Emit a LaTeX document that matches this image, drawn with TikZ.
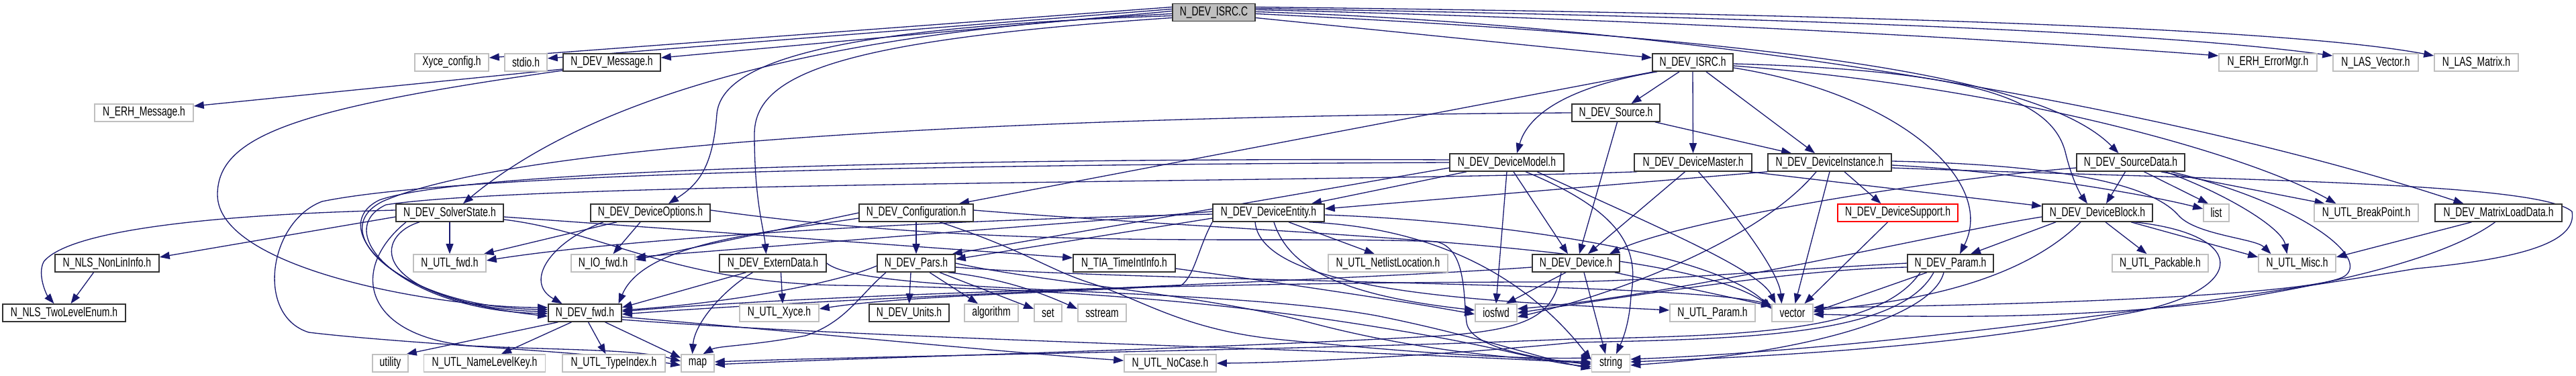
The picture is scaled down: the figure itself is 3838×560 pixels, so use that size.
\documentclass[tikz,border=0pt]{standalone}
\usepackage{fontspec}
\newfontfamily\dfont[FakeStretch=0.72]{Liberation Sans}
\usetikzlibrary{arrows.meta}
\definecolor{edgec}{HTML}{191970}
\definecolor{gbord}{HTML}{BFBFBF}
\definecolor{rootf}{HTML}{BFBFBF}
\pgfdeclarelayer{bg}
\pgfsetlayers{bg,main}
\begin{document}
\begin{tikzpicture}[x=0.02cm,y=-0.02cm,
  box/.style={rectangle,minimum height=0.52cm,inner sep=0pt,line width=0.9pt,fill=white,font=\dfont\fontsize{11}{13}\selectfont,text=black},
  doc/.style={box,draw=black!80},
  ext/.style={box,draw=gbord},
  trunc/.style={box,draw=red},
  rootn/.style={box,draw=black!80,fill=rootf},
  w/.style={minimum width=#1*0.02cm},
  ed/.style={draw=edgec,line width=0.75pt,-{Triangle[length=0.3cm,width=0.22cm]}}
]
\useasboundingbox (0,0) rectangle (3838,560);

\node[rootn,w=123] (root) at (1808.5,18.5) {N\_DEV\_ISRC.C};
\node[ext,w=110] (xyce) at (673,93) {Xyce\_config.h};
\node[ext,w=63] (stdio) at (783.5,93) {stdio.h};
\node[doc,w=145] (devmsg) at (911.5,93) {N\_DEV\_Message.h};
\node[doc,w=120] (isrch) at (2522,93) {N\_DEV\_ISRC.h};
\node[ext,w=146] (errmgr) at (3379,93) {N\_ERH\_ErrorMgr.h};
\node[ext,w=127] (lasvec) at (3539.5,93) {N\_LAS\_Vector.h};
\node[ext,w=125] (lasmat) at (3689.5,93) {N\_LAS\_Matrix.h};
\node[ext,w=147] (erhmsg) at (214.5,168) {N\_ERH\_Message.h};
\node[doc,w=131] (source) at (2407.5,168) {N\_DEV\_Source.h};
\node[doc,w=170] (model) at (2245,242) {N\_DEV\_DeviceModel.h};
\node[doc,w=175] (master) at (2522.5,242) {N\_DEV\_DeviceMaster.h};
\node[doc,w=184] (inst) at (2726,242) {N\_DEV\_DeviceInstance.h};
\node[doc,w=161] (srcdata) at (3174.5,242) {N\_DEV\_SourceData.h};
\node[doc,w=160] (solver) at (670,317) {N\_DEV\_SolverState.h};
\node[doc,w=178] (devopts) at (969,317) {N\_DEV\_DeviceOptions.h};
\node[doc,w=170] (config) at (1365,317) {N\_DEV\_Configuration.h};
\node[doc,w=166] (entity) at (1890,317) {N\_DEV\_DeviceEntity.h};
\node[trunc,w=179] (support) at (2827.5,317) {N\_DEV\_DeviceSupport.h};
\node[doc,w=164] (block) at (3125,317) {N\_DEV\_DeviceBlock.h};
\node[ext,w=38] (list) at (3302,317) {list};
\node[ext,w=155] (bkpt) at (3525.5,317) {N\_UTL\_BreakPoint.h};
\node[doc,w=189] (mld) at (3722.5,317) {N\_DEV\_MatrixLoadData.h};
\node[doc,w=155] (nonlin) at (159.5,392) {N\_NLS\_NonLinInfo.h};
\node[ext,w=108] (utlfwd) at (670,392) {N\_UTL\_fwd.h};
\node[ext,w=95] (iofwd) at (898.5,392) {N\_IO\_fwd.h};
\node[doc,w=159] (extern) at (1151.5,392) {N\_DEV\_ExternData.h};
\node[doc,w=116] (pars) at (1365,392) {N\_DEV\_Pars.h};
\node[doc,w=152] (tia) at (1675,392) {N\_TIA\_TimeIntInfo.h};
\node[ext,w=178] (netlist) at (2068,392) {N\_UTL\_NetlistLocation.h};
\node[doc,w=130] (device) at (2348,392) {N\_DEV\_Device.h};
\node[doc,w=128] (param) at (2906,392) {N\_DEV\_Param.h};
\node[ext,w=143] (pack) at (3218.5,392) {N\_UTL\_Packable.h};
\node[ext,w=115] (misc) at (3422.5,392) {N\_UTL\_Misc.h};
\node[doc,w=183] (twolevel) at (95.5,466) {N\_NLS\_TwoLevelEnum.h};
\node[doc,w=109] (devfwd) at (871.5,466) {N\_DEV\_fwd.h};
\node[ext,w=118] (utlxyce) at (1161,466) {N\_UTL\_Xyce.h};
\node[doc,w=119] (units) at (1354.5,466) {N\_DEV\_Units.h};
\node[ext,w=80] (algo) at (1477,466) {algorithm};
\node[ext,w=41] (set) at (1561.5,466) {set};
\node[ext,w=72] (sstream) at (1642,466) {sstream};
\node[ext,w=62] (iosfwd) at (2229,466) {iosfwd};
\node[ext,w=127] (utlparam) at (2551.5,466) {N\_UTL\_Param.h};
\node[ext,w=61] (vector) at (2670.5,466) {vector};
\node[ext,w=53] (utility) at (581.5,541) {utility};
\node[ext,w=181] (namelvl) at (722,541) {N\_UTL\_NameLevelKey.h};
\node[ext,w=153] (typeidx) at (914.5,541) {N\_UTL\_TypeIndex.h};
\node[ext,w=49] (map) at (1039.5,541) {map};
\node[ext,w=137] (nocase) at (1743.5,541) {N\_UTL\_NoCase.h};
\node[ext,w=57] (string) at (2400,541) {string};

\begin{pgfonlayer}{bg}
% root
\draw[ed] ([shift={(0,-8)}]root.west) -- ([shift={(0,-7)}]xyce.east);
\draw[ed] ([shift={(0,-5)}]root.west) -- ([shift={(0,-6)}]stdio.east);
\draw[ed] ([shift={(0,-2)}]root.west) -- ([shift={(0,-7)}]devmsg.east);
\draw[ed] ([shift={(0,2)}]root.west) .. controls (1150,50) and (850,170) .. ([shift={(20,0)}]solver.north);
\draw[ed] ([shift={(0,5)}]root.west) .. controls (1250,40) and (1075,90) .. (1068,170) .. controls (1062,250) and (1040,275) .. ([shift={(27,0)}]devopts.north);
\draw[ed] ([shift={(0,8)}]root.west) .. controls (1250,60) and (1124,110) .. (1124,200) .. controls (1124,300) and (1138,340) .. ([shift={(-10,0)}]extern.north);
\draw[ed] ([shift={(0,8)}]root.east) -- ([shift={(0,-7)}]isrch.west);
\draw[ed] ([shift={(0,-4)}]root.east) .. controls (2500,30) and (3000,60) .. ([shift={(0,-10)}]errmgr.west);
\draw[ed] ([shift={(0,-6)}]root.east) .. controls (2600,25) and (3200,45) .. ([shift={(0,-10)}]lasvec.west);
\draw[ed] ([shift={(0,-8)}]root.east) .. controls (2700,20) and (3400,40) .. ([shift={(0,-10)}]lasmat.west);
\draw[ed] ([shift={(0,2)}]root.east) .. controls (2700,60) and (3050,120) .. ([shift={(-18,0)}]srcdata.north);
\draw[ed] ([shift={(0,-1)}]root.east) .. controls (2600,40) and (3300,180) .. ([shift={(-52,0)}]mld.north);
% message
\draw[ed] ([shift={(0,10)}]devmsg.west) -- ([shift={(0,-10)}]erhmsg.east);
\draw[ed] ([shift={(0,12)}]devmsg.west) .. controls (450,160) and (324,200) .. (324,290) .. controls (324,400) and (650,458) .. ([shift={(0,-8)}]devfwd.west);
% isrc.h
\draw[ed] ([shift={(3,0)}]isrch.south west) -- ([shift={(64,0)}]config.north);
\draw[ed] ([shift={(8,0)}]isrch.south west) .. controls (2360,125) and (2280,160) .. ([shift={(15,0)}]model.north);
\draw[ed] ([shift={(-20,0)}]isrch.south) -- ([shift={(23,0)}]source.north);
\draw[ed] (isrch.south) -- (master.north);
\draw[ed] ([shift={(20,0)}]isrch.south) -- ([shift={(-22,0)}]inst.north);
\draw[ed] ([shift={(0,8)}]isrch.east) .. controls (2830,140) and (2975,270) .. ([shift={(14,0)}]param.north);
\draw[ed] ([shift={(0,2)}]isrch.east) .. controls (2950,105) and (3060,150) .. (3078,230) .. controls (3088,270) and (3100,290) .. ([shift={(-15,0)}]block.north);
\draw[ed] ([shift={(0,5)}]isrch.east) .. controls (3000,130) and (3350,230) .. ([shift={(-45,0)}]bkpt.north);
% source
\draw[ed] ([shift={(-8,0)}]source.south east) -- ([shift={(-57,0)}]inst.north);
\draw[ed] ([shift={(2,0)}]source.south) -- ([shift={(5,0)}]device.north);
\draw[ed] (source.west) .. controls (1700,172) and (800,200) .. (570,300) .. controls (480,345) and (600,458) .. ([shift={(0,-5)}]devfwd.west);
% model
\draw[ed] ([shift={(-60,0)}]model.south) -- ([shift={(64,0)}]entity.north);
\draw[ed] ([shift={(0,8)}]model.west) -- ([shift={(-5,0)}]pars.north east);
\draw[ed] (model.south) -- (iosfwd.north);
\draw[ed] ([shift={(10,0)}]model.south) -- ([shift={(-12,0)}]device.north);
\draw[ed] ([shift={(28,0)}]model.south) .. controls (2430,320) and (2440,380) .. (2430,440) .. controls (2428,480) and (2418,505) .. ([shift={(8,0)}]string.north);
\draw[ed] ([shift={(45,0)}]model.south) .. controls (2450,330) and (2620,400) .. ([shift={(-25,0)}]vector.north);
\draw[ed] ([shift={(0,-4)}]model.west) .. controls (1500,235) and (700,250) .. (565,298) .. controls (480,340) and (600,460) .. ([shift={(0,-2)}]devfwd.west);
\draw[ed] (model.west) .. controls (1500,245) and (700,255) .. (480,300) .. controls (400,330) and (380,470) .. (460,495) .. controls (600,512) and (900,525) .. ([shift={(0,3)}]map.west);
% master
\draw[ed] ([shift={(-12,0)}]master.south) -- ([shift={(18,0)}]device.north);
\draw[ed] ([shift={(8,0)}]master.south) .. controls (2570,300) and (2650,400) .. ([shift={(-16,0)}]vector.north);
\draw[ed] ([shift={(-5,0)}]master.south east) -- ([shift={(0,-10)}]block.west);
\draw[ed] ([shift={(5,0)}]master.south west) .. controls (2000,272) and (800,270) .. (575,305) .. controls (490,345) and (600,462) .. ([shift={(0,1)}]devfwd.west);
% instance
\draw[ed] ([shift={(22,0)}]inst.south) -- ([shift={(-25,0)}]support.north);
\draw[ed] (inst.south) -- ([shift={(4,0)}]vector.north);
\draw[ed] (inst.south west) -- ([shift={(0,-6)}]entity.east);
\draw[ed] ([shift={(0,4)}]inst.east) .. controls (3000,255) and (3200,290) .. ([shift={(0,-6)}]list.west);
\draw[ed] ([shift={(0,-2)}]inst.east) .. controls (3050,245) and (3200,270) .. (3245,320) .. controls (3270,350) and (3360,355) .. ([shift={(-39,0)}]misc.north);
\draw[ed] ([shift={(0,8)}]inst.east) .. controls (3300,268) and (3780,270) .. (3832,315) .. controls (3840,360) and (3760,385) .. (3600,400) .. controls (3300,450) and (2800,520) .. ([shift={(0,-6)}]string.east);
\draw[ed] ([shift={(-20,0)}]inst.south) .. controls (2620,360) and (2400,440) .. ([shift={(0,6)}]iosfwd.east);
% support
\draw[ed] ([shift={(-15,0)}]support.south) -- ([shift={(18,0)}]vector.north);
% source data
\draw[ed] ([shift={(-8,0)}]srcdata.south) -- ([shift={(13,0)}]block.north);
\draw[ed] ([shift={(20,0)}]srcdata.south) -- ([shift={(-12,0)}]list.north);
\draw[ed] ([shift={(45,0)}]srcdata.south) -- ([shift={(-62,0)}]bkpt.north);
\draw[ed] ([shift={(52,0)}]srcdata.south) .. controls (3320,290) and (3400,340) .. ([shift={(-15,0)}]misc.north);
\draw[ed] ([shift={(0,8)}]srcdata.west) .. controls (2850,270) and (2500,330) .. ([shift={(50,0)}]device.north);
\draw[ed] ([shift={(60,0)}]srcdata.south) .. controls (3420,300) and (3530,380) .. (3495,410) .. controls (3460,440) and (3000,455) .. ([shift={(0,-8)}]vector.east);
% block
\draw[ed] ([shift={(-62,0)}]block.south) -- ([shift={(30,0)}]param.north);
\draw[ed] ([shift={(12,0)}]block.south) -- ([shift={(-20,0)}]pack.north);
\draw[ed] ([shift={(50,0)}]block.south) -- ([shift={(0,-9)}]misc.west);
\draw[ed] ([shift={(-25,0)}]block.south) .. controls (3010,420) and (2850,450) .. ([shift={(0,-4)}]vector.east);
\draw[ed] ([shift={(55,0)}]block.south) .. controls (3360,350) and (3350,440) .. (3150,470) .. controls (2900,520) and (2600,532) .. ([shift={(0,-2)}]string.east);
\draw[ed] ([shift={(0,6)}]block.west) .. controls (2900,345) and (2500,440) .. ([shift={(0,-6)}]iosfwd.east);
% matrix load data
\draw[ed] ([shift={(-40,0)}]mld.south) -- ([shift={(0,-9)}]misc.east);
\draw[ed] ([shift={(-5,0)}]mld.south) .. controls (3650,380) and (3500,420) .. (3300,450) .. controls (3050,480) and (2800,470) .. ([shift={(0,2)}]vector.east);
% param
\draw[ed] ([shift={(-35,0)}]param.south) -- ([shift={(0,-1)}]vector.east);
\draw[ed] ([shift={(-10,0)}]param.south) .. controls (2880,470) and (2700,525) .. ([shift={(0,3)}]string.east);
\draw[ed] ([shift={(-45,0)}]param.south) .. controls (2800,495) and (2600,500) .. (2340,505) .. controls (2000,520) and (1300,530) .. ([shift={(0,-2)}]map.east);
\draw[ed] ([shift={(-25,0)}]param.south) .. controls (2830,500) and (2600,505) .. (2345,510) .. controls (2200,525) and (1950,540) .. (nocase.east);
\draw[ed] ([shift={(0,6)}]param.west) .. controls (2700,400) and (2500,430) .. (iosfwd.east);
\draw[ed] (param.west) .. controls (2600,405) and (2450,420) .. (2300,420) .. controls (1800,420) and (1200,440) .. ([shift={(0,-2)}]devfwd.east);
% device
\draw[ed] ([shift={(-15,0)}]device.south) -- ([shift={(15,0)}]iosfwd.north);
\draw[ed] ([shift={(12,0)}]device.south) -- ([shift={(-8,0)}]string.north);
\draw[ed] ([shift={(-8,0)}]device.south east) -- ([shift={(0,-10)}]vector.west);
\draw[ed] ([shift={(-22,0)}]device.south) .. controls (2315,470) and (2280,490) .. (2150,500) .. controls (1800,520) and (1300,532) .. ([shift={(0,2)}]map.east);
\draw[ed] ([shift={(0,6)}]device.west) .. controls (2000,418) and (1300,440) .. ([shift={(0,2)}]devfwd.east);
% entity
\draw[ed] ([shift={(30,0)}]entity.south) -- ([shift={(-20,0)}]netlist.north);
\draw[ed] ([shift={(8,0)}]entity.south) .. controls (1920,400) and (2000,440) .. ([shift={(0,-4)}]iosfwd.west);
\draw[ed] ([shift={(60,0)}]entity.south) .. controls (2150,340) and (2280,420) .. ([shift={(0,-5)}]string.west);
\draw[ed] ([shift={(0,3)}]entity.east) .. controls (2250,330) and (2560,380) .. ([shift={(0,-6)}]vector.west);
\draw[ed] ([shift={(0,8)}]entity.west) -- ([shift={(0,-6)}]pars.east);
\draw[ed] ([shift={(0,-2)}]entity.west) -- ([shift={(0,-9)}]iofwd.east);
\draw[ed] ([shift={(0,2)}]entity.west) .. controls (1300,330) and (900,360) .. ([shift={(0,-4)}]utlfwd.east);
\draw[ed] (entity.south west) .. controls (1785,370) and (1780,410) .. (1760,425) .. controls (1600,435) and (1350,440) .. ([shift={(0,-6)}]utlxyce.east);
\draw[ed] ([shift={(-20,0)}]entity.south) .. controls (1880,440) and (2250,450) .. ([shift={(0,-4)}]utlparam.west);
% configuration
\draw[ed] (config.south) -- (pars.north);
\draw[ed] ([shift={(0,8)}]config.west) .. controls (1150,345) and (960,360) .. ([shift={(50,0)}]devfwd.north);
\draw[ed] (config.west) -- ([shift={(0,-5)}]iofwd.east);
\draw[ed] ([shift={(0,-4)}]config.east) .. controls (1900,350) and (2500,360) .. ([shift={(0,-8)}]vector.west);
\draw[ed] ([shift={(35,0)}]config.south) .. controls (1520,370) and (1560,400) .. (1620,420) .. controls (1700,445) and (1760,490) .. (1900,505) .. controls (2100,525) and (2250,535) .. ([shift={(0,-8)}]string.west);
% device options
\draw[ed] ([shift={(-15,0)}]devopts.south) -- ([shift={(15,0)}]iofwd.north);
\draw[ed] ([shift={(-50,0)}]devopts.south) -- ([shift={(-4,0)}]utlfwd.north east);
\draw[ed] ([shift={(-70,0)}]devopts.south) .. controls (820,360) and (780,420) .. ([shift={(-34,0)}]devfwd.north);
\draw[ed] ([shift={(0,-4)}]devopts.east) .. controls (1500,375) and (1900,350) .. (2140,360) .. controls (2185,370) and (2180,440) .. (2185,480) .. controls (2190,520) and (2300,535) .. ([shift={(0,2)}]string.west);
% solver state
\draw[ed] (solver.south) -- (utlfwd.north);
\draw[ed] ([shift={(0,6)}]solver.west) -- ([shift={(0,-9)}]nonlin.east);
\draw[ed] ([shift={(0,-4)}]solver.west) .. controls (300,320) and (100,345) .. (65,390) .. controls (55,410) and (70,440) .. ([shift={(-15,0)}]twolevel.north);
\draw[ed] ([shift={(0,6)}]solver.east) -- ([shift={(0,-8)}]tia.west);
\draw[ed] ([shift={(-45,0)}]solver.south) .. controls (560,350) and (540,440) .. ([shift={(0,5)}]devfwd.west);
\draw[ed] ([shift={(-65,0)}]solver.south) .. controls (520,400) and (540,500) .. (700,515) .. controls (850,522) and (950,520) .. ([shift={(0,-3)}]map.west);
\draw[ed] ([shift={(0,10)}]solver.east) .. controls (900,345) and (1000,420) .. (1250,425) .. controls (1700,430) and (1950,470) .. (2100,495) .. controls (2250,520) and (2300,540) .. ([shift={(0,5)}]string.west);
% extern data
\draw[ed] ([shift={(12,0)}]extern.south) -- ([shift={(5,0)}]utlxyce.north);
\draw[ed] ([shift={(-40,0)}]extern.south) -- ([shift={(0,-8)}]devfwd.east);
\draw[ed] ([shift={(-30,0)}]extern.south) .. controls (1080,430) and (1035,480) .. ([shift={(-8,0)}]map.north);
\draw[ed] (extern.east) .. controls (1290,440) and (1800,425) .. (2050,470) .. controls (2200,500) and (2300,535) .. ([shift={(0,8)}]string.west);
% pars
\draw[ed] ([shift={(-8,0)}]pars.south) -- (units.north);
\draw[ed] ([shift={(20,0)}]pars.south) -- ([shift={(-20,0)}]algo.north);
\draw[ed] ([shift={(35,0)}]pars.south) -- ([shift={(0,-6)}]set.west);
\draw[ed] ([shift={(48,0)}]pars.south) .. controls (1500,415) and (1560,440) .. ([shift={(0,-6)}]sstream.west);
\draw[ed] ([shift={(0,4)}]pars.west) .. controls (1250,420) and (1100,450) .. ([shift={(0,-4)}]devfwd.east);
\draw[ed] ([shift={(-45,0)}]pars.south) .. controls (1280,440) and (1260,480) .. (1200,500) .. controls (1120,515) and (1070,515) .. ([shift={(8,0)}]map.north);
\draw[ed] (pars.east) .. controls (1550,420) and (1800,440) .. (1950,480) .. controls (2100,520) and (2250,535) .. ([shift={(0,-2)}]string.west);
\draw[ed] ([shift={(0,6)}]pars.east) .. controls (1700,420) and (2500,420) .. ([shift={(0,-12)}]vector.west);
% time int info
\draw[ed] ([shift={(0,8)}]tia.east) .. controls (1900,420) and (2100,450) .. ([shift={(0,2)}]iosfwd.west);
% dev fwd
\draw[ed] ([shift={(-40,0)}]devfwd.south) -- ([shift={(-3,0)}]utility.north east);
\draw[ed] ([shift={(-20,0)}]devfwd.south) -- ([shift={(25,0)}]namelvl.north);
\draw[ed] ([shift={(5,0)}]devfwd.south) -- ([shift={(-12,0)}]typeidx.north);
\draw[ed] ([shift={(30,0)}]devfwd.south) -- ([shift={(0,-8)}]map.west);
\draw[ed] ([shift={(0,6)}]devfwd.east) .. controls (1200,495) and (1500,525) .. ([shift={(0,-4)}]nocase.west);
\draw[ed] ([shift={(0,10)}]devfwd.east) .. controls (1300,505) and (2000,520) .. (string.west);
% nonlin
\draw[ed] ([shift={(-20,0)}]nonlin.south) -- ([shift={(10,0)}]twolevel.north);
\end{pgfonlayer}
\end{tikzpicture}
\end{document}
